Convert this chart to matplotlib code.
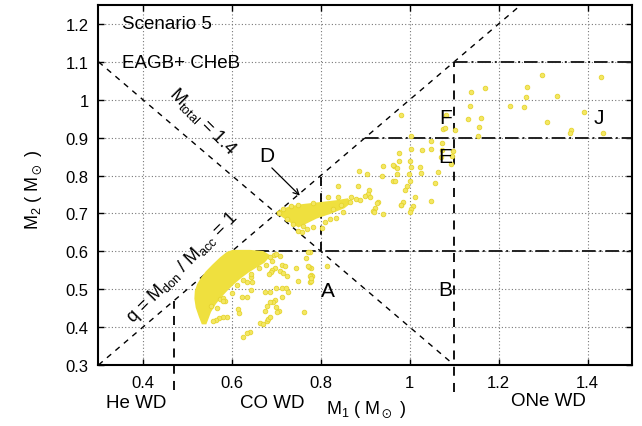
import matplotlib
matplotlib.use("Agg")
import matplotlib.pyplot as plt

plt.rcParams["font.family"] = ["Liberation Sans", "DejaVu Sans"]
plt.rcParams["mathtext.fontset"] = "custom"
plt.rcParams["mathtext.rm"] = "Liberation Sans"
plt.rcParams["mathtext.it"] = "Liberation Sans:italic"
plt.rcParams["mathtext.default"] = "regular"

# ---- datos -------------------------------------------------------------
# nube densa principal (CO+CO, q<1) -- contorno
cloud_main_x = [0.602, 0.640, 0.670, 0.684, 0.672, 0.655, 0.636, 0.620, 0.604,
                0.590, 0.574, 0.562, 0.551, 0.545, 0.541, 0.534, 0.528, 0.521,
                0.518, 0.519, 0.524, 0.532, 0.543, 0.558, 0.575, 0.590]
cloud_main_y = [0.601, 0.601, 0.598, 0.588, 0.572, 0.560, 0.546, 0.532, 0.516,
                0.500, 0.480, 0.462, 0.441, 0.422, 0.410, 0.410, 0.428, 0.452,
                0.475, 0.495, 0.512, 0.528, 0.545, 0.563, 0.582, 0.596]

# nube D -- contorno
cloud_d_x = [0.702, 0.730, 0.760, 0.798, 0.835, 0.860, 0.866, 0.852, 0.820,
             0.790, 0.764, 0.750, 0.730, 0.714]
cloud_d_y = [0.703, 0.716, 0.722, 0.727, 0.732, 0.737, 0.729, 0.716, 0.701,
             0.689, 0.674, 0.666, 0.680, 0.693]

# sistemas individuales
pts_x = [
    # alrededor de la nube principal
    0.708, 0.694, 0.685, 0.712, 0.719, 0.697, 0.691, 0.688, 0.684, 0.745,
    0.779, 0.777, 0.780, 0.749, 0.775, 0.775, 0.709, 0.714, 0.724, 0.644,
    0.646, 0.635, 0.644, 0.622, 0.635, 0.685, 0.674, 0.700, 0.712, 0.721,
    0.727, 0.712, 0.697, 0.693, 0.685, 0.700, 0.706, 0.702, 0.678, 0.674,
    0.762, 0.663, 0.670, 0.678, 0.682, 0.685, 0.614, 0.616, 0.588, 0.579,
    0.571, 0.564, 0.558, 0.573, 0.580, 0.584, 0.554, 0.624, 0.640, 0.635,
    0.766, 0.772, 0.774, 0.775, 0.779, 0.813, 0.771, 0.777,
    0.600, 0.612, 0.626, 0.642, 0.660, 0.676, 0.690, 0.700, 0.580, 0.566,
    # borde de la nube D
    0.748, 0.760, 0.768, 0.802, 0.809, 0.820, 0.835, 0.850, 0.869, 0.880,
    0.888, 0.865, 0.839, 0.816, 0.783, 0.749, 0.734, 0.715, 0.723, 0.738,
    0.757, 0.783, 0.705, 0.845, 0.828,
    # región E y alrededores
    0.886, 0.903, 0.838, 0.884, 0.908, 0.906, 0.899, 0.910, 0.929, 0.921,
    0.918, 0.940, 0.938, 0.939, 0.964, 0.975, 0.975, 0.972, 0.971, 0.962,
    0.968, 0.994, 0.989, 0.984, 0.981, 1.000, 1.002, 0.999, 1.000, 1.007,
    1.004, 1.000, 1.024, 1.025, 1.028, 1.049, 1.048, 1.047, 1.073, 1.064,
    1.058, 1.075, 1.004, 1.002, 1.097, 1.073, 1.096, 1.071, 1.094, 0.963,
    1.012, 0.919, 0.927, 0.981,
    # regiones F y J
    0.981, 1.081, 1.079, 1.103, 1.139, 1.170, 1.136, 1.132, 1.160, 1.157,
    1.154, 1.298, 1.264, 1.261, 1.332, 1.225, 1.257, 1.308, 1.393, 1.363,
    1.360, 1.430, 1.434,
]
pts_y = [
    0.588, 0.590, 0.584, 0.564, 0.562, 0.555, 0.551, 0.545, 0.540, 0.555,
    0.555, 0.537, 0.534, 0.522, 0.597, 0.520, 0.547, 0.543, 0.536, 0.531,
    0.518, 0.518, 0.499, 0.480, 0.479, 0.492, 0.492, 0.502, 0.502, 0.502,
    0.492, 0.479, 0.472, 0.465, 0.465, 0.452, 0.443, 0.439, 0.456, 0.443,
    0.441, 0.411, 0.408, 0.417, 0.421, 0.426, 0.448, 0.437, 0.426, 0.426,
    0.423, 0.419, 0.417, 0.474, 0.476, 0.470, 0.456, 0.373, 0.386, 0.384,
    0.582, 0.597, 0.558, 0.536, 0.522, 0.562, 0.560, 0.529,
    0.490, 0.510, 0.525, 0.540, 0.555, 0.565, 0.575, 0.592, 0.470, 0.450,
    0.654, 0.668, 0.659, 0.661, 0.677, 0.685, 0.687, 0.704, 0.742, 0.738,
    0.735, 0.729, 0.742, 0.744, 0.727, 0.722, 0.719, 0.712, 0.685, 0.672,
    0.650, 0.663, 0.700, 0.722, 0.712,
    0.813, 0.804, 0.771, 0.773, 0.763, 0.751, 0.747, 0.742, 0.729, 0.713,
    0.707, 0.698, 0.799, 0.826, 0.826, 0.859, 0.837, 0.819, 0.804, 0.786,
    0.786, 0.773, 0.762, 0.731, 0.722, 0.837, 0.822, 0.804, 0.786, 0.719,
    0.712, 0.704, 0.822, 0.807, 0.868, 0.733, 0.892, 0.870, 0.885, 0.810,
    0.779, 0.923, 0.903, 0.870, 0.865, 0.868, 0.851, 0.848, 0.830, 0.828,
    0.742, 0.704, 0.727, 0.722,
    0.960, 0.960, 0.925, 0.921, 1.021, 1.030, 0.983, 0.949, 0.951, 0.928,
    0.905, 1.064, 1.034, 1.008, 1.009, 0.983, 0.982, 0.941, 0.967, 0.920,
    0.912, 1.059, 0.913,
]

# límites de regiones
q_line_x = [0.3, 1.25]
q_line_y = [0.3, 1.25]
mtot_x = [0.3, 1.1]
mtot_y = [1.1, 0.3]
h_levels = [0.6, 0.9, 1.1]
h_start = [0.6, 0.9, 1.1]
v_pos = [0.47, 1.1, 0.8]
v_bottom = [0.235, 0.228, 0.6]
v_top = [0.47, 1.1, 0.8]

amarillo = "#efe03e"

# ---- figura --------------------------------------------------------------
fig = plt.figure(figsize=(6.42, 4.27), dpi=100)
ax = fig.add_axes([0.1534, 0.1429, 0.8310, 0.8431])

ax.set_xlim(0.3, 1.5)
ax.set_ylim(0.3, 1.25)

ax.grid(True, linestyle=(0, (1, 2)), color="#777777", linewidth=0.8)
ax.set_axisbelow(True)

lw_lim = 1.0
ax.plot(q_line_x, q_line_y, color="black", lw=lw_lim, dashes=(4, 4), zorder=1)
ax.plot(mtot_x, mtot_y, color="black", lw=lw_lim, dashes=(4, 4), zorder=1)
for y0, x0 in zip(h_levels, h_start):
    ax.plot([x0, 1.5], [y0, y0], color="#222222", lw=1.4,
            dashes=(7, 2, 1, 2), zorder=1)
for x0, yb, yt in zip(v_pos, v_bottom, v_top):
    ax.plot([x0, x0], [yb, yt], color="black", lw=1.3, dashes=(5, 4),
            zorder=1, clip_on=False)

ax.fill(cloud_main_x, cloud_main_y, color=amarillo, lw=1.5, zorder=2)
ax.fill(cloud_d_x, cloud_d_y, color=amarillo, lw=1.5, zorder=2)
ax.scatter(pts_x, pts_y, s=11, facecolor="#f3e763", edgecolor="#e6d42e",
           linewidths=0.6, zorder=3)

# textos
ax.text(0.353, 1.200, "Scenario 5", fontsize=13.5, va="center", ha="left")
ax.text(0.353, 1.099, "EAGB+ CHeB", fontsize=13.5, va="center", ha="left")
ax.text(0.534, 0.946, r"M$_{total}$ = 1.4", fontsize=13, rotation=-45,
        ha="center", va="center", rotation_mode="anchor")
ax.text(0.489, 0.560, r"q = M$_{don}$ / M$_{acc}$ = 1", fontsize=13,
        rotation=45, ha="center", va="center", rotation_mode="anchor")

for lab, lx, ly in [("A", 0.816, 0.496), ("B", 1.079, 0.498),
                    ("E", 1.079, 0.851), ("F", 1.081, 0.952),
                    ("J", 1.425, 0.952)]:
    ax.text(lx, ly, lab, fontsize=15, ha="center", va="center", zorder=4)

ax.text(0.678, 0.852, "D", fontsize=15, ha="center", va="center", zorder=4)
ax.annotate("", xy=(0.753, 0.747), xytext=(0.690, 0.820), zorder=4,
            arrowprops=dict(arrowstyle="->", color="black", lw=0.9,
                            shrinkA=0, shrinkB=0))

# tipos de enana blanca bajo el eje
tr = ax.get_xaxis_transform()
ax.text(0.385, -0.105, "He WD", fontsize=13.5, ha="center", va="center",
        transform=tr, clip_on=False)
ax.text(0.691, -0.105, "CO WD", fontsize=13.5, ha="center", va="center",
        transform=tr, clip_on=False)
ax.text(1.312, -0.100, "ONe WD", fontsize=13.5, ha="center", va="center",
        transform=tr, clip_on=False)
ax.text(0.901, -0.122, r"M$_1$ ( M$_\odot$ )", fontsize=13, ha="center",
        va="center", transform=tr, clip_on=False)
fig.text(0.053, 0.555, r"M$_2$ ( M$_\odot$ )", fontsize=13, ha="center",
         va="center", rotation=90)

# ejes
xt = [0.4, 0.6, 0.8, 1.0, 1.2, 1.4]
yt = [0.3, 0.4, 0.5, 0.6, 0.7, 0.8, 0.9, 1.0, 1.1, 1.2]
ax.set_xticks(xt)
ax.set_xticklabels(["0.4", "0.6", "0.8", "1", "1.2", "1.4"])
ax.set_yticks(yt)
ax.set_yticklabels(["0.3", "0.4", "0.5", "0.6", "0.7", "0.8", "0.9", "1",
                    "1.1", "1.2"])
ax.tick_params(direction="in", length=4, width=1, top=True, right=True,
               labelsize=12, pad=7)
for sp in ax.spines.values():
    sp.set_linewidth(1.5)

fig.savefig("out.png", dpi=100)
plt.close(fig)
